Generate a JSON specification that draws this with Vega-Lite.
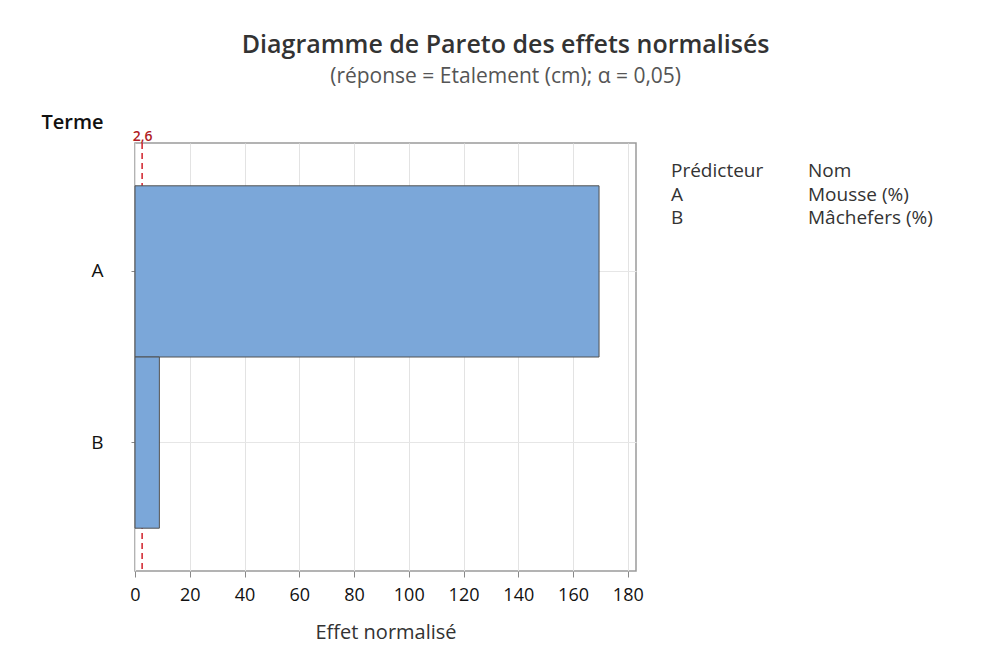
{
  "$schema": "https://vega.github.io/schema/vega-lite/v6.json",
  "background": "white",
  "padding": {"left": 40, "top": 33, "right": 10, "bottom": 10},
  "config": {"font": "Open Sans", "view": {"stroke": null}},
  "title": {
    "text": "Diagramme de Pareto des effets normalisés",
    "subtitle": "(réponse = Etalement (cm); α = 0,05)",
    "anchor": "middle",
    "font": "Open Sans",
    "fontSize": 25,
    "fontWeight": 600,
    "color": "#333333",
    "subtitleFont": "Open Sans",
    "subtitleFontSize": 21,
    "subtitleColor": "#555555",
    "subtitlePadding": 8,
    "offset": 24
  },
  "bounds": "flush",
  "spacing": 35,
  "hconcat": [
    {
      "width": 501,
      "height": 428,
      "view": {"stroke": "#9a9a9a", "strokeWidth": 1.5},
      "data": {"values": [
        {"Terme": "A", "Effet": 169.5},
        {"Terme": "B", "Effet": 8.9}
      ]},
      "layer": [
        {
          "data": {"values": [{"seuil": 2.6}]},
          "mark": {"type": "rule", "color": "#d0202a", "strokeDash": [6, 4], "strokeWidth": 1.5},
          "encoding": {
            "x": {
              "field": "seuil", "type": "quantitative",
              "scale": {"domain": [0, 183], "nice": false, "zero": false},
              "axis": {
                "orient": "top", "values": [2.6], "title": null,
                "labelExpr": "replace(format(datum.value, '.1f'), '.', ',')",
                "ticks": false, "domain": false, "grid": false, "labelFlush": false,
                "labelColor": "#b01c24", "labelFontSize": 14, "labelFontWeight": 600, "labelPadding": 0
              }
            }
          }
        },
        {
          "mark": {"type": "bar", "fill": "#7ba7d9", "stroke": "#505050", "strokeWidth": 1},
          "encoding": {
            "y": {
              "field": "Terme", "type": "nominal",
              "scale": {"paddingInner": 0, "paddingOuter": 0.25},
              "axis": {
                "title": "Terme", "titleAngle": 0, "titleAlign": "left", "titleBaseline": "alphabetic",
                "titleX": -94, "titleY": -15, "titleFontSize": 20, "titleFontWeight": 600, "titleColor": "#111111",
                "labelFontSize": 19, "labelColor": "#111111", "labelPadding": 28,
                "tickSize": 4, "tickColor": "#888888", "domain": false,
                "grid": true, "gridColor": "#e6e6e6", "bandPosition": 0.5
              }
            },
            "x": {
              "field": "Effet", "type": "quantitative",
              "scale": {"domain": [0, 183], "nice": false, "zero": false},
              "axis": {
                "orient": "bottom", "title": "Effet normalisé",
                "values": [0, 20, 40, 60, 80, 100, 120, 140, 160, 180],
                "labelFlush": false,
                "titleFontSize": 20, "titleFontWeight": "normal", "titleColor": "#333333", "titlePadding": 18,
                "labelFontSize": 18, "labelColor": "#111111", "labelPadding": 9,
                "tickSize": 6, "tickColor": "#888888", "domain": false,
                "grid": true, "gridColor": "#e3e3e3"
              }
            }
          }
        }
      ],
      "resolve": {"axis": {"x": "independent"}}
    },
    {
      "width": 300,
      "height": 428,
      "view": {"stroke": null},
      "data": {"values": [
        {"ligne": 1, "colonne": "Prédicteur", "texte": "Prédicteur"},
        {"ligne": 1, "colonne": "Nom", "texte": "Nom"},
        {"ligne": 2, "colonne": "Prédicteur", "texte": "A"},
        {"ligne": 2, "colonne": "Nom", "texte": "Mousse (%)"},
        {"ligne": 3, "colonne": "Prédicteur", "texte": "B"},
        {"ligne": 3, "colonne": "Nom", "texte": "Mâchefers (%)"}
      ]},
      "mark": {"type": "text", "align": "left", "baseline": "middle", "fontSize": 19, "color": "#333333"},
      "encoding": {
        "x": {"field": "colonne", "type": "nominal", "scale": {"type": "point", "domain": ["Prédicteur", "Nom"], "range": [0, 137], "padding": 0}, "axis": null},
        "y": {"field": "ligne", "type": "ordinal", "scale": {"type": "point", "range": [28, 75], "padding": 0}, "axis": null},
        "text": {"field": "texte"}
      }
    }
  ]
}
